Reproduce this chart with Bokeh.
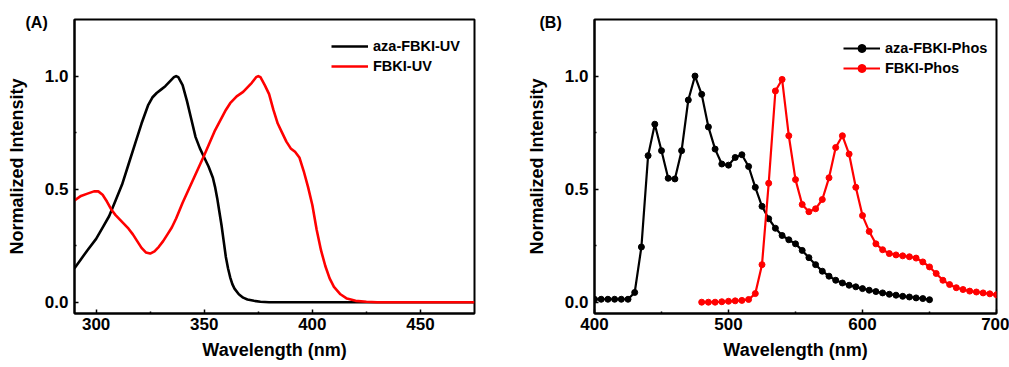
from bokeh.plotting import figure
from bokeh.layouts import row
from bokeh.models import (Range1d, FixedTicker, PrintfTickFormatter, Legend, LegendItem, Title)
from bokeh.embed import file_html
from bokeh.resources import INLINE

# ---------------- data: panel A (UV absorption) ----------------
uv_wl_aza = [290, 293, 296, 300, 303, 306, 309, 312, 315, 318, 321, 324, 326, 328, 330, 332, 334,
             336, 337, 338, 340, 342, 344, 346, 348, 350, 352, 354, 355, 356, 357, 358, 359, 360,
             361, 362, 363, 364, 366, 368, 370, 373, 376, 380, 400, 450, 475]
uv_aza = [0.15, 0.19, 0.23, 0.28, 0.33, 0.38, 0.45, 0.52, 0.61, 0.70, 0.79, 0.87, 0.905, 0.925,
          0.94, 0.955, 0.975, 0.995, 1.0, 0.995, 0.96, 0.89, 0.81, 0.73, 0.68, 0.64, 0.60, 0.55,
          0.51, 0.46, 0.40, 0.34, 0.27, 0.20, 0.15, 0.11, 0.08, 0.06, 0.035, 0.02, 0.012, 0.006,
          0.002, 0.0, 0.0, 0.0, 0.0]

uv_wl_fbki = [290, 293, 296, 299, 301, 303, 305, 307, 309, 311, 313, 315, 317, 319, 321, 323, 325,
              327, 329, 331, 333, 335, 337, 340, 345, 350, 355, 360, 362, 365, 368, 370, 372, 374,
              375, 376, 378, 380, 382, 384, 386, 388, 390, 392, 394, 396, 398, 400, 402, 404, 406,
              408, 410, 413, 416, 420, 425, 430, 450, 475]
uv_fbki = [0.45, 0.47, 0.48, 0.49, 0.49, 0.475, 0.445, 0.41, 0.385, 0.365, 0.345, 0.325, 0.30,
           0.27, 0.24, 0.22, 0.215, 0.225, 0.245, 0.27, 0.30, 0.33, 0.37, 0.44, 0.545, 0.65, 0.76,
           0.85, 0.88, 0.91, 0.93, 0.95, 0.97, 0.995, 1.0, 0.995, 0.96, 0.92, 0.85, 0.79, 0.75,
           0.71, 0.68, 0.665, 0.64, 0.58, 0.51, 0.43, 0.32, 0.23, 0.16, 0.105, 0.068, 0.035,
           0.016, 0.006, 0.002, 0.0, 0.0, 0.0]

# ---------------- data: panel B (phosphorescence) ----------------
ph_wl_aza = list(range(400, 651, 5))
ph_aza = [0.013, 0.013, 0.013, 0.013, 0.013, 0.013, 0.043, 0.244, 0.648, 0.787, 0.67, 0.548, 0.545,
          0.67, 0.894, 1.0, 0.919, 0.775, 0.677, 0.611, 0.606, 0.64, 0.652, 0.60, 0.508, 0.424,
          0.369, 0.327, 0.295, 0.276, 0.258, 0.229, 0.197, 0.166, 0.137, 0.115, 0.097, 0.085,
          0.075, 0.068, 0.060, 0.053, 0.047, 0.041, 0.035, 0.031, 0.026, 0.023, 0.019, 0.016, 0.011]

ph_wl_fbki = list(range(480, 701, 5))
ph_fbki = [0.0, 0.0, 0.0, 0.002, 0.004, 0.006, 0.008, 0.012, 0.038, 0.166, 0.526, 0.934, 0.985,
           0.736, 0.542, 0.432, 0.40, 0.413, 0.454, 0.55, 0.684, 0.736, 0.655, 0.508, 0.383,
           0.313, 0.258, 0.232, 0.215, 0.209, 0.205, 0.201, 0.195, 0.178, 0.156, 0.127, 0.097,
           0.078, 0.064, 0.056, 0.049, 0.045, 0.041, 0.037, 0.033]

y_ticks = [0.0, 0.5, 1.0]
y_minor = [0.25, 0.75]
xa_ticks = [300, 350, 400, 450]
xa_minor = [325, 375, 425]
xb_ticks = [400, 500, 600, 700]
xb_minor = [450, 550, 650]

FONT = "Liberation Sans"
BLACK = "#000000"
RED = "#FF0000"


def style(p, xt, xm):
    p.xaxis.ticker = FixedTicker(ticks=xt, minor_ticks=xm)
    p.yaxis.ticker = FixedTicker(ticks=y_ticks, minor_ticks=y_minor)
    p.yaxis.formatter = PrintfTickFormatter(format="%.1f")
    p.xgrid.visible = False
    p.ygrid.visible = False
    p.outline_line_color = "black"
    p.outline_line_width = 2
    p.outline_line_alpha = 1
    for ax in (p.xaxis, p.yaxis):
        ax.axis_line_width = 2
        ax.axis_line_color = "black"
        ax.major_tick_in = 4
        ax.major_tick_out = 0
        ax.minor_tick_in = 2
        ax.minor_tick_out = 0
        ax.major_tick_line_width = 1.5
        ax.minor_tick_line_width = 1.5
        ax.major_label_text_font = FONT
        ax.major_label_text_font_style = "bold"
        ax.major_label_text_font_size = "17px"
        ax.major_label_text_color = "black"
        ax.axis_label_text_font = FONT
        ax.axis_label_text_font_style = "bold"
        ax.axis_label_text_font_size = "18px"
        ax.axis_label_text_color = "black"
    p.xaxis.axis_label = "Wavelength (nm)"
    p.yaxis.axis_label = "Normalized Intensity"
    p.xaxis.major_label_standoff = 4
    p.xaxis.axis_label_standoff = 7
    p.yaxis.major_label_standoff = 6
    p.yaxis.axis_label_standoff = 15
    p.background_fill_color = "white"
    p.border_fill_color = "white"


def legend(p, items, loc):
    lg = Legend(items=items, location=loc, orientation="vertical",
                background_fill_alpha=0, border_line_alpha=0,
                padding=0, margin=0, spacing=0,
                glyph_width=37, glyph_height=20, label_height=20,
                label_standoff=5,
                label_text_font=FONT, label_text_font_style="bold",
                label_text_font_size="14.5px", label_text_color="black")
    p.add_layout(lg)


def panel_label(p, text, dx):
    kw = dict(text=text, align="left", offset=dx, vertical_align="bottom",
              text_font=FONT, text_font_style="bold", text_font_size="16px",
              text_color="black")
    try:
        t = Title(standoff=-22, **kw)
    except Exception:
        t = Title(standoff=0, **kw)
    p.add_layout(t, "above")


# ---------------- panel A ----------------
pA = figure(width=500, height=367, output_backend="svg", toolbar_location=None,
            x_range=Range1d(290, 475), y_range=Range1d(-0.05, 1.25),
            min_border_left=74, min_border_right=26, min_border_top=19, min_border_bottom=54)
style(pA, xa_ticks, xa_minor)
la1 = pA.line(uv_wl_aza, uv_aza, line_color=BLACK, line_width=2.6, line_join="round")
la2 = pA.line(uv_wl_fbki, uv_fbki, line_color=RED, line_width=2.6, line_join="round")
legend(pA, [LegendItem(label="aza-FBKI-UV", renderers=[la1]),
            LegendItem(label="FBKI-UV", renderers=[la2])], (257, 237))
panel_label(pA, "(A)", -49)

# ---------------- panel B ----------------
pB = figure(width=509, height=367, output_backend="svg", toolbar_location=None,
            x_range=Range1d(400, 700), y_range=Range1d(-0.05, 1.25),
            min_border_left=94, min_border_right=13, min_border_top=19, min_border_bottom=54)
style(pB, xb_ticks, xb_minor)
lb1 = pB.line(ph_wl_aza, ph_aza, line_color=BLACK, line_width=2.2)
sb1 = pB.scatter(ph_wl_aza, ph_aza, marker="circle", size=6, fill_color=BLACK, line_color=BLACK)
lb2 = pB.line(ph_wl_fbki, ph_fbki, line_color=RED, line_width=2.2)
sb2 = pB.scatter(ph_wl_fbki, ph_fbki, marker="circle", size=6, fill_color=RED, line_color=RED)
legend(pB, [LegendItem(label="aza-FBKI-Phos", renderers=[lb1, sb1]),
            LegendItem(label="FBKI-Phos", renderers=[lb2, sb2])], (249, 235))
panel_label(pB, "(B)", -55)

layout = row(pA, pB, spacing=0)
open("out.html", "w").write(file_html(layout, INLINE))
